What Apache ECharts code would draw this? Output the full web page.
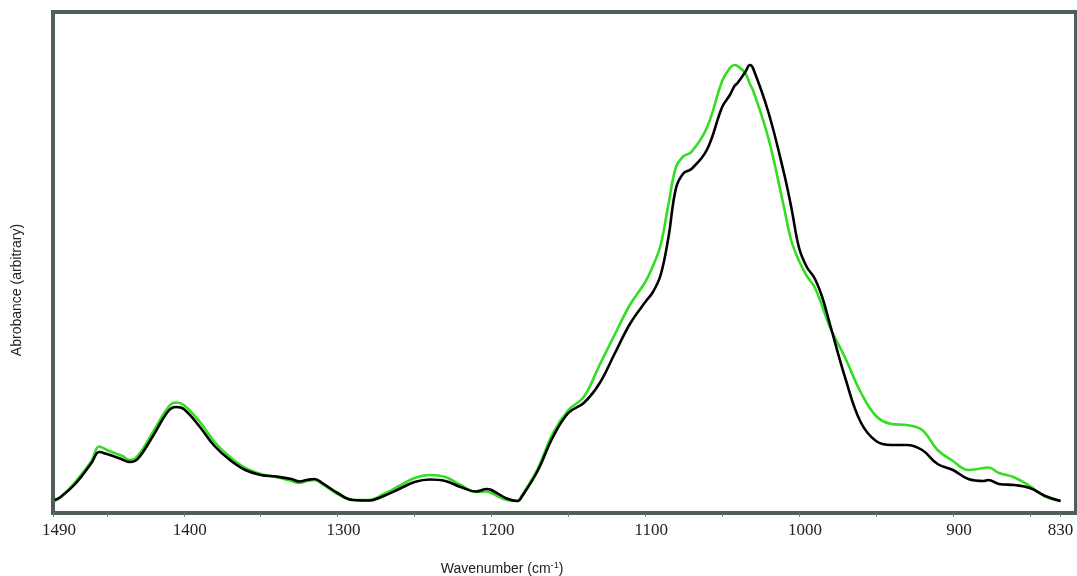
<!DOCTYPE html>
<html>
<head>
<meta charset="utf-8">
<script src="https://cdn.jsdelivr.net/npm/echarts@6/dist/echarts.min.js"></script>
<style>
html,body{margin:0;padding:0;background:#fff;}
#chart{width:1077px;height:576px;}
</style>
</head>
<body>
<div id="chart"></div>
<script>
// Wavenumbers (cm-1)
const wavenumbers = [1484,1480,1470,1460,1455,1450,1440,1435,1430,1420,1410,1405,1400,1390,1380,1370,1360,1350,1340,1330,1325,1320,1315,1310,1300,1290,1280,1270,1260,1250,1240,1230,1220,1210,1203,1200,1190,1183,1180,1170,1160,1150,1140,1130,1120,1110,1100,1095,1090,1085,1080,1075,1070,1060,1050,1045,1042,1040,1035,1032,1030,1020,1010,1005,1000,995,990,985,980,970,960,950,940,930,920,910,900,890,880,877,870,860,850,840,830];
// Absorbance (arbitrary units) - black spectrum
const blackAbs = [2.6,3.2,6.0,10.0,12.2,11.8,10.7,10.2,10.8,15.4,20.4,21.2,20.8,17.4,13.4,10.6,8.6,7.6,7.3,6.8,6.3,6.6,6.8,6.0,4.0,2.6,2.5,3.4,4.8,6.2,6.7,6.4,5.2,4.3,4.8,4.6,2.9,2.4,3.4,8.4,15.2,20.0,22.0,25.8,31.8,37.8,42.2,44.2,47.6,55.0,65.0,68.0,68.8,72.6,81.2,83.6,85.4,86.0,88.2,89.6,89.0,80.2,68.2,61.0,53.0,49.2,47.0,43.2,37.8,27.0,18.2,14.4,13.6,13.6,12.6,9.8,8.6,6.8,6.4,6.6,5.8,5.6,5.0,3.4,2.4];
// Absorbance (arbitrary units) - green spectrum
const greenAbs = [2.4,3.2,6.4,10.4,13.3,12.6,11.4,10.6,11.4,16.2,21.2,22.1,21.6,18.4,14.2,11.2,9.0,7.8,7.2,6.4,6.0,6.4,6.6,5.8,3.8,2.6,2.6,3.8,5.4,7.0,7.6,7.2,5.6,4.2,4.3,4.0,2.6,2.4,3.6,8.8,16.0,20.6,23.2,29.4,35.6,41.6,46.2,49.4,53.6,61.6,69.2,71.4,72.2,77.0,86.4,89.0,89.6,89.4,88.0,85.8,84.6,75.0,61.4,54.4,50.4,47.4,45.2,41.4,37.2,31.0,24.2,19.4,17.8,17.6,16.6,12.6,10.4,8.6,9.0,9.1,8.0,7.1,5.4,3.3,2.4];
// Axis ticks and labels
const tickValues = [1485,1450,1400,1350,1300,1250,1200,1150,1100,1050,1000,950,900,850,830];
const labelValues = [1485,1400,1300,1200,1100,1000,900,830];
const labelTexts = ['1490','1400','1300','1200','1100','1000','900','830'];

const chart = echarts.init(document.getElementById('chart'), null, {renderer:'canvas'});
const pairs = arr => wavenumbers.map((w,i)=>[w, arr[i]]);

chart.setOption({
  animation:false,
  backgroundColor:'#ffffff',
  grid:{left:53,right:1,top:12,bottom:63,show:true,borderColor:'#4f5e5c',borderWidth:4,backgroundColor:'#ffffff',containLabel:false},
  xAxis:{
    type:'value', inverse:true, min:820, max:1485,
    axisLine:{show:false},
    splitLine:{show:false},
    axisTick:{show:true, customValues:tickValues, length:4, lineStyle:{color:'#777',width:1}},
    axisLabel:{
      show:true, customValues:labelValues, margin:9,
      formatter:function(v){ const i = labelValues.indexOf(v); const t = i>=0?labelTexts[i]:''; return v===830?'{e|'+t+'}':'{n|'+t+'}'; },
      rich:{
        n:{fontFamily:'Liberation Serif',fontSize:17,color:'#222',padding:[0,0,0,12]},
        e:{fontFamily:'Liberation Serif',fontSize:17,color:'#222'}
      }
    }
  },
  yAxis:{
    type:'value', min:0, max:100.2,
    axisLine:{show:false}, axisTick:{show:false}, axisLabel:{show:false}, splitLine:{show:false}
  },
  series:[
    {type:'line', data:pairs(greenAbs), showSymbol:false, smooth:0.4, lineStyle:{color:'#33dd22',width:2.6}, z:2},
    {type:'line', data:pairs(blackAbs), showSymbol:false, smooth:0.4, lineStyle:{color:'#000000',width:2.6}, z:3}
  ],
  graphic:[
    {type:'text', x:502, y:569, style:{text:'Wavenumber (cm{s|-1})', rich:{s:{fontSize:9,verticalAlign:'top',padding:[0,0,6,0],fontFamily:'Liberation Sans',fill:'#222'}}, fontFamily:'Liberation Sans', fontSize:14, fill:'#222', align:'center', verticalAlign:'middle'}},
    {type:'text', x:17, y:290, rotation:Math.PI/2, style:{text:'Abrobance (arbitrary)', fontFamily:'Liberation Sans', fontSize:14, fill:'#222', align:'center', verticalAlign:'middle'}}
  ]
});
</script>
</body>
</html>
